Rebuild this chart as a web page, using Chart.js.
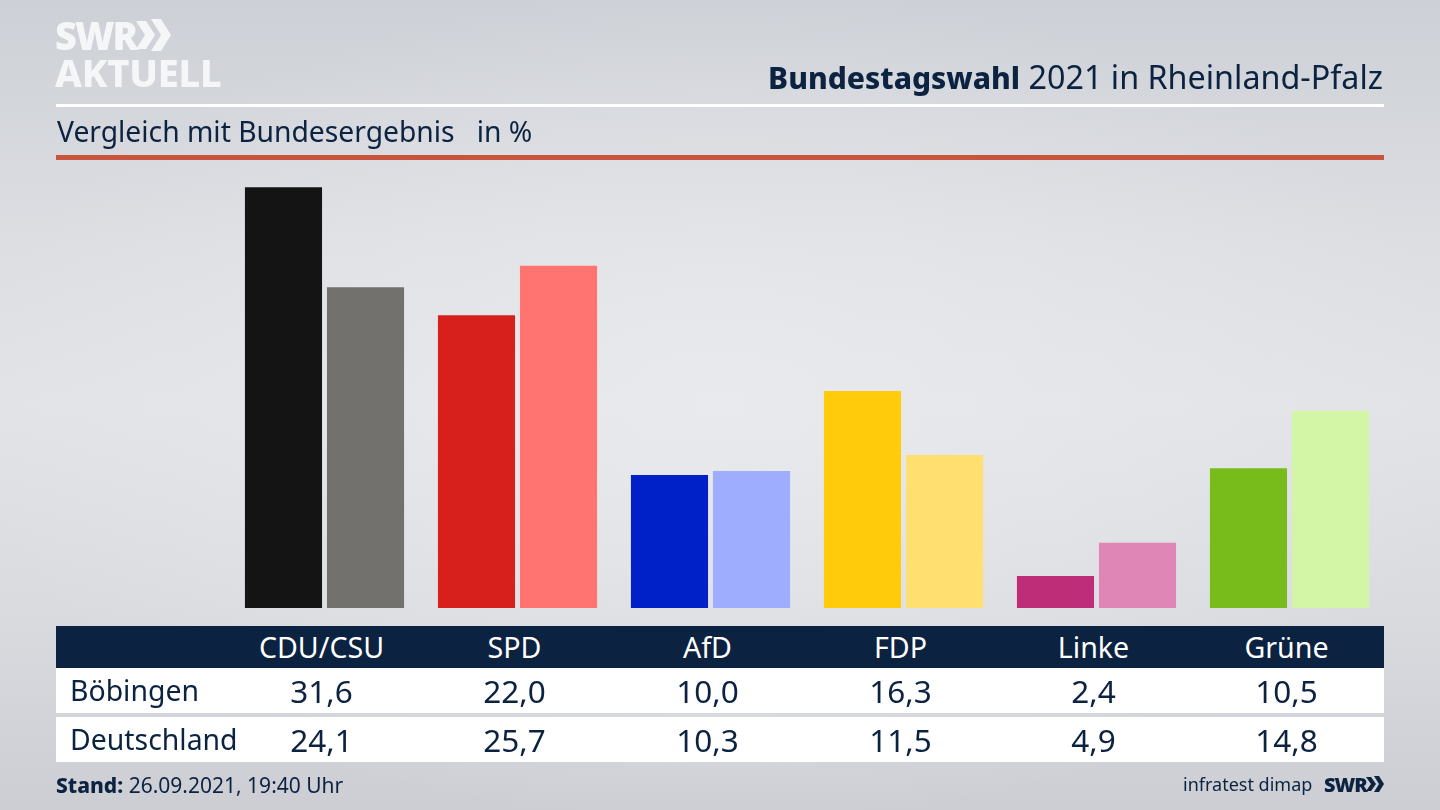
<!DOCTYPE html>
<html lang="de">
<head>
<meta charset="utf-8">
<title>Bundestagswahl 2021 in Rheinland-Pfalz</title>
<script src="https://cdn.jsdelivr.net/npm/chart.js@4"></script>
<style>
html, body { margin: 0; padding: 0; }
body {
    position: relative; width: 1440px; height: 810px; overflow: hidden;
    font-family: "Noto Sans", sans-serif; color: #0b2240;
    background:
        radial-gradient(ellipse 760px 420px at 50% 50%, rgba(235,236,239,0.75), rgba(235,236,239,0) 100%),
        linear-gradient(180deg, #cdd0d6 0%, #dcdee2 30%, #e2e3e6 50%, #d9dbdf 75%, #ccced4 100%);
}
#chart { position: absolute; left: 0; top: 0; }
.abs { position: absolute; white-space: nowrap; line-height: 1; }
.rule { position: absolute; left: 56px; width: 1328px; }
#logo1 { left: 55px; top: 16px; font-size: 38px; font-weight: 900; color: #f5f6f8; letter-spacing: -2px; }
#logo2 { left: 55px; top: 53px; font-size: 38px; font-weight: 800; color: #f5f6f8; letter-spacing: -0.2px; }
#title { right: 57px; top: 60px; font-size: 32.3px; }
#title b { font-weight: 800; font-size: 30px; }
#subtitle { left: 57px; top: 117px; font-size: 28.25px; }
#table { position: absolute; left: 56px; top: 626px; width: 1328px; }
.row { position: absolute; left: 0; width: 1328px; display: flex; }
.row div { width: 193px; text-align: center; }
.row div:first-child { width: 169px; text-align: left; padding-left: 14px; box-sizing: border-box; font-size: 28.4px; }
#head { top: 0; height: 42px; line-height: 42px; background: #0b2240; color: #fff; font-size: 28.6px; }
#row1 { top: 42px; height: 45px; line-height: 45px; background: #fff; font-size: 31.5px; }
#row2 { top: 91px; height: 45px; line-height: 45px; background: #fff; font-size: 31.5px; }
#stand { left: 56px; top: 775px; font-size: 21px; }
#stand b { font-weight: 800; }
#source { left: 1183px; top: 775px; font-size: 18px; }
#swr { left: 1324px; top: 775px; font-size: 20px; font-weight: 900; letter-spacing: -1px; }
</style>
</head>
<body>
<canvas id="chart" width="1440" height="810"></canvas>

<div class="abs" id="logo1">SWR</div>
<svg class="abs" style="left:136px;top:19px" width="36" height="34"><path d="M0 2h10l9 14-9 14H0l9-14zM15 0h10l10 16-10 16H15l10-16z" fill="#f5f6f8"/></svg>
<div class="abs" id="logo2">AKTUELL</div>
<div class="abs" id="title"><b>Bundestagswahl</b> 2021 in Rheinland-Pfalz</div>
<div class="rule" style="top:104px;height:3px;background:#fff"></div>
<div class="abs" id="subtitle">Vergleich mit Bundesergebnis &nbsp; in %</div>
<div class="rule" style="top:155px;height:5px;background:#c85440"></div>

<div id="table">
    <div class="row" id="head"></div>
    <div class="row" id="row1"></div>
    <div class="row" id="row2"></div>
</div>

<div class="abs" id="stand"><b>Stand:</b> 26.09.2021, 19:40 Uhr</div>
<div class="abs" id="source">infratest dimap</div>
<div class="abs" id="swr">SWR</div>
<svg class="abs" style="left:1366px;top:776px" width="19" height="17"><path d="M0 1h5l5 7-5 7H0l5-7zM8 0h5l5 8-5 8H8l5-8z" fill="#0b2240"/></svg>

<script>
const parties = ['CDU/CSU', 'SPD', 'AfD', 'FDP', 'Linke', 'Grüne'];
const boebingen = [31.6, 22.0, 10.0, 16.3, 2.4, 10.5];
const deutschland = [24.1, 25.7, 10.3, 11.5, 4.9, 14.8];
const boebingenColors = ['#141414', '#d71f1c', '#0020c8', '#ffcb0a', '#be2e78', '#78bc1c'];
const deutschlandColors = ['#72716e', '#ff7370', '#9fadff', '#ffdf70', '#e086b6', '#d3f5a6'];

function fillRow(id, label, cells) {
    document.getElementById(id).innerHTML =
        `<div>${label}</div>` + cells.map(c => `<div>${c}</div>`).join('');
}

function formatValue(v) {
    return v.toFixed(1).replace('.', ',');
}

fillRow('head', '', parties);
fillRow('row1', 'Böbingen', boebingen.map(formatValue));
fillRow('row2', 'Deutschland', deutschland.map(formatValue));

new Chart(document.getElementById('chart'), {
    type: 'bar',
    data: {
        labels: parties,
        datasets: [
            { label: 'Böbingen', data: boebingen, backgroundColor: boebingenColors },
            { label: 'Deutschland', data: deutschland, backgroundColor: deutschlandColors }
        ]
    },
    options: {
        responsive: false,
        animation: false,
        devicePixelRatio: 1,
        datasets: { bar: { categoryPercentage: 0.85, barPercentage: 0.94 } },
        layout: { padding: { left: 228, right: 54, top: 182, bottom: 202 } },
        plugins: { legend: { display: false }, tooltip: { enabled: false } },
        scales: {
            x: { display: false },
            y: { display: false, min: 0, max: 32 }
        }
    }
});
</script>
</body>
</html>
